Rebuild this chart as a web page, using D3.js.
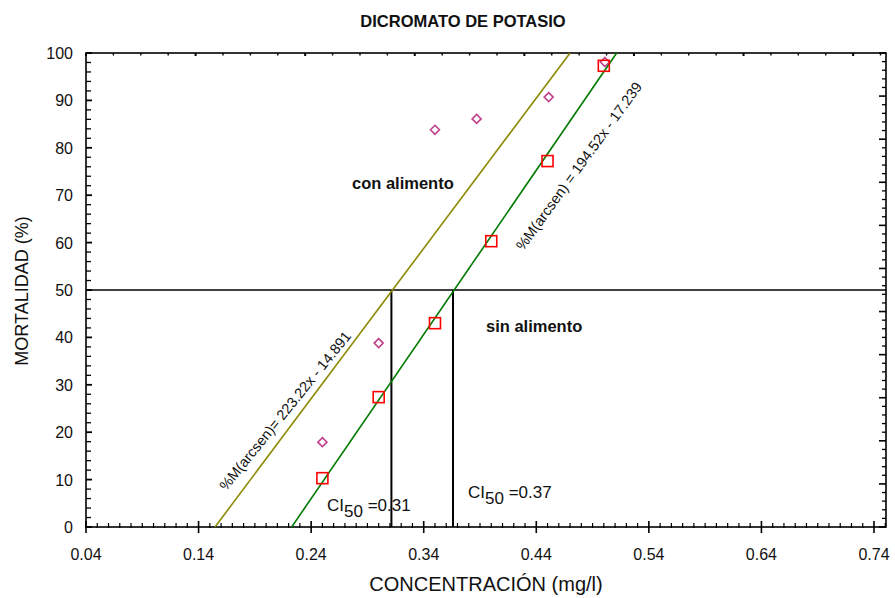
<!DOCTYPE html>
<html>
<head>
<meta charset="utf-8">
<script src="https://cdn.jsdelivr.net/npm/d3@7"></script>
<style>
  html, body { margin: 0; padding: 0; background: #fff; }
  svg { display: block; font-family: "Liberation Sans", Arial, sans-serif; }
</style>
</head>
<body>
<svg id="chart" width="895" height="598"></svg>
<script>
// ---------------- data ----------------
const conAlimentoX = [0.25, 0.30, 0.35, 0.387, 0.451, 0.501];
const conAlimentoY = [17.9, 38.8, 83.8, 86.1, 90.7, 98.1];
const sinAlimentoX = [0.25, 0.30, 0.35, 0.40, 0.45, 0.50];
const sinAlimentoY = [10.3, 27.4, 43.0, 60.3, 77.2, 97.3];
// fitted lines as drawn (x at mortality 0 and at 100)
const conLineX = [0.1546, 0.470];
const sinLineX = [0.2227, 0.5114];
const lineY = [0, 100];
const ci50Values = [0.3113, 0.366];
const ci50Labels = ["0.31", "0.37"];
const xTickLabels = ["0.04", "0.14", "0.24", "0.34", "0.44", "0.54", "0.64", "0.74"];
const yTickLabels = [0, 10, 20, 30, 40, 50, 60, 70, 80, 90, 100];
const titleText = "DICROMATO DE POTASIO";
const xLabel = "CONCENTRACIÓN (mg/l)";
const yLabel = "MORTALIDAD (%)";
const eqCon = "%M(arcsen)= 223.22x - 14.891";
const eqSin = "%M(arcsen) = 194.52x - 17.239";

// ---------------- layout ----------------
const L = 86, R = 886, T = 53, B = 527;
const svg = d3.select("#chart");
const x = d3.scaleLinear().domain([0.04, 0.74]).range([L, 874]);
const y = d3.scaleLinear().domain([0, 100]).range([B, T]);
const xTop = d3.scaleLinear().domain([0, 0.73]).range([L, R]);
const yRight = d3.scaleLinear().domain([0, 110]).range([B, T]);

const olive = "#8c8a00", green = "#007a00", pink = "#c2408c", red = "#ff0000";

// frame
svg.append("rect").attr("x", L).attr("y", T).attr("width", R - L).attr("height", B - T)
  .attr("fill", "none").attr("stroke", "#000").attr("stroke-width", 1.6);

// bottom axis ticks
const xMinor = d3.range(4, 76).map(i => i / 100);
const isMajX = d => (Math.round(d * 100) - 4) % 10 === 0;
svg.append("g").selectAll("line").data(xMinor).join("line")
  .attr("x1", d => x(d)).attr("x2", d => x(d))
  .attr("y1", d => isMajX(d) ? B - 6 : B - 4)
  .attr("y2", d => isMajX(d) ? B + 6 : B + 1)
  .attr("stroke", "#000").attr("stroke-width", d => isMajX(d) ? 1.6 : 1.2);
svg.append("g").selectAll("text").data(xTickLabels).join("text")
  .attr("x", d => x(+d)).attr("y", 560).attr("text-anchor", "middle")
  .attr("font-size", 16).attr("fill", "#111").text(d => d);

// left axis ticks
const yMinor = d3.range(0, 101, 2);
svg.append("g").selectAll("line").data(yMinor).join("line")
  .attr("x1", L).attr("x2", d => d % 10 === 0 ? L + 6 : L + 5)
  .attr("y1", d => y(d)).attr("y2", d => y(d))
  .attr("stroke", "#000").attr("stroke-width", d => d % 10 === 0 ? 1.8 : 1.3);
svg.append("g").selectAll("text").data(yTickLabels).join("text")
  .attr("x", 73).attr("y", d => y(d) + 6).attr("text-anchor", "end")
  .attr("font-size", 16).attr("fill", "#111").text(d => d);

// top axis ticks
const topT = d3.range(0, 0.731, 0.025);
svg.append("g").selectAll("line").data(topT).join("line")
  .attr("x1", d => xTop(d)).attr("x2", d => xTop(d))
  .attr("y1", T).attr("y2", (d, i) => i % 4 === 0 ? T + 3 : T + 2.5)
  .attr("stroke", "#000").attr("stroke-width", (d, i) => i % 4 === 0 ? 2 : 1.4);

// right axis ticks
const rightT = d3.range(0, 111, 2);
svg.append("g").selectAll("line").data(rightT).join("line")
  .attr("x1", R).attr("x2", d => d % 10 === 0 ? R - 7 : R - 4)
  .attr("y1", d => yRight(d)).attr("y2", d => yRight(d))
  .attr("stroke", "#000").attr("stroke-width", d => d % 10 === 0 ? 1.6 : 1.3);

// 50% line and CI50 drops
svg.append("line").attr("x1", L).attr("x2", R).attr("y1", y(50)).attr("y2", y(50))
  .attr("stroke", "#000").attr("stroke-width", 1.5);
svg.append("g").selectAll("line").data(ci50Values).join("line")
  .attr("x1", d => x(d)).attr("x2", d => x(d)).attr("y1", y(50)).attr("y2", B)
  .attr("stroke", "#000").attr("stroke-width", 2);

// fitted lines
svg.append("line").attr("x1", x(conLineX[0])).attr("y1", y(lineY[0]))
  .attr("x2", x(conLineX[1])).attr("y2", y(lineY[1])).attr("stroke", olive).attr("stroke-width", 1.6);
svg.append("line").attr("x1", x(sinLineX[0])).attr("y1", y(lineY[0]))
  .attr("x2", x(sinLineX[1])).attr("y2", y(lineY[1])).attr("stroke", green).attr("stroke-width", 1.6);

// markers
const con = conAlimentoX.map((v, i) => [v, conAlimentoY[i]]);
const sin = sinAlimentoX.map((v, i) => [v, sinAlimentoY[i]]);
svg.append("g").selectAll("path").data(con).join("path")
  .attr("d", d => { const cx = x(d[0]), cy = y(d[1]), r = 4.5;
    return `M${cx},${cy - r}L${cx + r},${cy}L${cx},${cy + r}L${cx - r},${cy}Z`; })
  .attr("fill", "none").attr("stroke", pink).attr("stroke-width", 1.6);
svg.append("g").selectAll("rect").data(sin).join("rect")
  .attr("x", d => x(d[0]) - 5.5).attr("y", d => y(d[1]) - 5.5).attr("width", 11).attr("height", 11)
  .attr("fill", "none").attr("stroke", red).attr("stroke-width", 1.6);

// equations along lines
svg.append("text").attr("transform", "translate(289,414) rotate(-51)")
  .attr("text-anchor", "middle").attr("font-size", 14.5).attr("fill", "#111").text(eqCon);
svg.append("text").attr("transform", "translate(583,169) rotate(-54)")
  .attr("text-anchor", "middle").attr("font-size", 14.5).attr("fill", "#111").text(eqSin);

// series labels
svg.append("text").attr("x", 352).attr("y", 189).attr("font-size", 16.5).attr("font-weight", "bold")
  .attr("fill", "#111").text("con alimento");
svg.append("text").attr("x", 486).attr("y", 332).attr("font-size", 16.5).attr("font-weight", "bold")
  .attr("fill", "#111").text("sin alimento");

// CI50 labels
const ciPos = [[327, 511], [468, 498]];
ci50Labels.forEach((lab, i) => {
  const t = svg.append("text").attr("x", ciPos[i][0]).attr("y", ciPos[i][1])
    .attr("font-size", 17).attr("fill", "#111");
  t.append("tspan").text("CI");
  t.append("tspan").attr("dy", 6).text("50");
  t.append("tspan").attr("dy", -6).text(" =" + lab);
});

// title and axis labels
svg.append("text").attr("x", 463).attr("y", 27).attr("text-anchor", "middle")
  .attr("font-size", 16.5).attr("font-weight", "bold").attr("fill", "#111").text(titleText);
svg.append("text").attr("x", 486).attr("y", 591).attr("text-anchor", "middle")
  .attr("font-size", 20).attr("fill", "#111").text(xLabel);
svg.append("text").attr("transform", "translate(28,291) rotate(-90)").attr("text-anchor", "middle")
  .attr("font-size", 18).attr("fill", "#111").text(yLabel);
</script>
</body>
</html>
